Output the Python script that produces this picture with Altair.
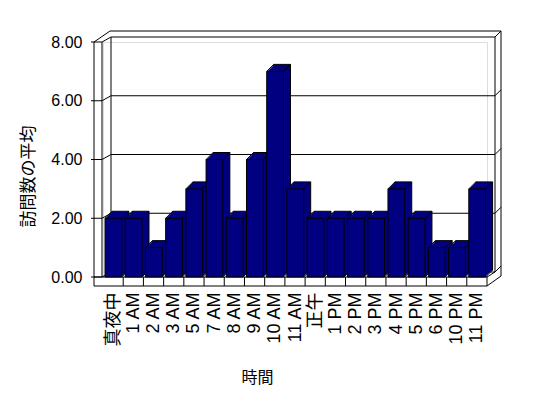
import json
import altair as alt
import pandas as pd

# ---- data ----
hours = ["真夜中", "1 AM", "2 AM", "3 AM", "5 AM", "7 AM", "8 AM", "9 AM", "10 AM",
         "11 AM", "正午", "1 PM", "2 PM", "3 PM", "4 PM", "5 PM", "6 PM", "10 PM", "11 PM"]
visits = [2, 2, 1, 2, 3, 4, 2, 4, 7, 3, 2, 2, 2, 2, 3, 2, 1, 1, 3]
y_ticks = [0, 2, 4, 6, 8]

n = len(hours)
NAVY = "#000080"
FONT = "Liberation Sans, Noto Sans CJK JP"
DX, DY = 8, -5      # depth of the walls (px)
BD = 7              # depth of the bars (px)
TOP = -11           # outer top of the back wall
FL = 9              # floor thickness

bars = pd.DataFrame({"hour": hours, "visits": visits})
bars["i"] = range(n)
bars["b0"] = bars["i"] + 0.1
bars["b1"] = bars["i"] + 0.93
bars["base"] = 0

grid = pd.DataFrame({"g": y_ticks})
grid["x0"] = 0
grid["x1"] = n

edges = pd.DataFrame({"x0": [0], "x1": [n], "y0": [min(y_ticks)], "y1": [max(y_ticks)]})
vert = pd.DataFrame({"xe": [0, n], "y0": [min(y_ticks)] * 2, "y1": [max(y_ticks)] * 2})
bounds = pd.DataFrame({"k": list(range(1, n + 1))})
bounds["y0"] = 0

xs = alt.Scale(domain=[0, n], nice=False, zero=False)
ys = alt.Scale(domain=[0, 8], nice=False)

label_expr = json.dumps(hours, ensure_ascii=False) + "[floor(datum.value)]"

xaxis = alt.Axis(values=[i + 0.5 for i in range(n)], labelExpr=label_expr,
                 labelAngle=270, labelPadding=15, ticks=False, domain=False, grid=False,
                 labelFont=FONT, labelFontSize=18, labelColor="black", labelOverlap=False,
                 labelLimit=200,
                 titleFont=FONT, titleFontSize=16, titleFontWeight="normal", titleColor="black",
                 titleX=154, titleY=100, titleAngle=0, titleAlign="center",
                 titleBaseline="middle")
yaxis = alt.Axis(values=y_ticks, format=".2f", ticks=False, domain=False, grid=False,
                 labelPadding=21, labelFont=FONT, labelFontSize=16, labelColor="black",
                 titleFont=FONT, titleFontSize=17, titleFontWeight="normal", titleColor="black",
                 titleX=-75, titleY=134, titleAngle=270, titleAlign="center",
                 titleBaseline="middle")


def X(f):
    return alt.X(f"{f}:Q", scale=xs, axis=xaxis, title="時間")


def Y(f):
    return alt.Y(f"{f}:Q", scale=ys, axis=yaxis, title="訪問数の平均")


def seg(df, x, y, x2=None, y2=None, **off):
    enc = dict(x=X(x), y=Y(y))
    if x2:
        enc["x2"] = alt.X2(x2)
    if y2:
        enc["y2"] = alt.Y2(y2)
    return alt.Chart(df).mark_rule(color="black", strokeWidth=1, **off).encode(**enc)


layers = [
    # back wall
    seg(grid, "x0", "g", x2="x1", xOffset=DX, x2Offset=DX, yOffset=DY),
    seg(vert, "xe", "y0", y2="y1", xOffset=DX, yOffset=DY, y2Offset=DY),
    # side wall
    seg(grid, "x0", "g", x2="x0", y2="g", xOffset=-1, x2Offset=DX, y2Offset=DY),
    seg(grid, "x0", "g", x2="x0", xOffset=-12, x2Offset=-1),
    seg(edges, "x0", "y0", y2="y1", xOffset=-1),
    seg(edges, "x0", "y1", y2="y0", xOffset=-9, y2Offset=FL),
    seg(edges, "x0", "y1", x2="x0", y2="y1", xOffset=-9, x2Offset=7, y2Offset=TOP),
    # back wall outer edge
    seg(edges, "x0", "y1", x2="x1", xOffset=7, x2Offset=DX + 6, yOffset=TOP),
    seg(edges, "x1", "y1", y2="y0", xOffset=DX + 6, yOffset=TOP, y2Offset=-1),
    seg(grid, "x1", "g", x2="x1", y2="g", xOffset=DX, yOffset=DY,
        x2Offset=DX + 6, y2Offset=DY - 6),
    # floor
    seg(edges, "x0", "y0", x2="x1", xOffset=-9),
    seg(edges, "x0", "y0", x2="x1", xOffset=-9, yOffset=FL),
    seg(bounds, "k", "y0", y2="y0", y2Offset=FL),
    seg(edges, "x1", "y0", x2="x1", y2="y0", yOffset=FL, x2Offset=DX + 6, y2Offset=-1),
    seg(edges, "x1", "y0", x2="x1", y2="y0", x2Offset=DX, y2Offset=DY),
]

# bar depth (side and top faces)
for k in range(BD, 0, -1):
    props = dict(fill=NAVY, xOffset=k, x2Offset=k, yOffset=-k, y2Offset=-k)
    if k == BD:
        props.update(stroke="black", strokeWidth=1)
    else:
        props.update(strokeWidth=0)
    layers.append(alt.Chart(bars).mark_rect(**props).encode(
        x=X("b0"), x2=alt.X2("b1"), y=Y("visits"), y2=alt.Y2("base")))

layers += [
    seg(bars, "b0", "visits", x2="b0", y2="visits", x2Offset=BD, y2Offset=-BD),
    seg(bars, "b1", "visits", x2="b1", y2="visits", x2Offset=BD, y2Offset=-BD),
    seg(bars, "b1", "base", x2="b1", y2="base", x2Offset=BD, y2Offset=-BD),
    alt.Chart(bars).mark_rect(fill=NAVY, stroke="black", strokeWidth=1).encode(
        x=X("b0"), x2=alt.X2("b1"), y=Y("visits"), y2=alt.Y2("base"),
        tooltip=["hour:N", "visits:Q"]),
]

chart = alt.layer(*layers).properties(
    width=384, height=235,
    padding={"left": 95, "top": 34, "right": 40, "bottom": 120},
    autosize=alt.AutoSizeParams(type="none"),
).configure_view(stroke=None).configure(background="white")

chart.save("out.html", embed_options={"renderer": "svg", "actions": False})
